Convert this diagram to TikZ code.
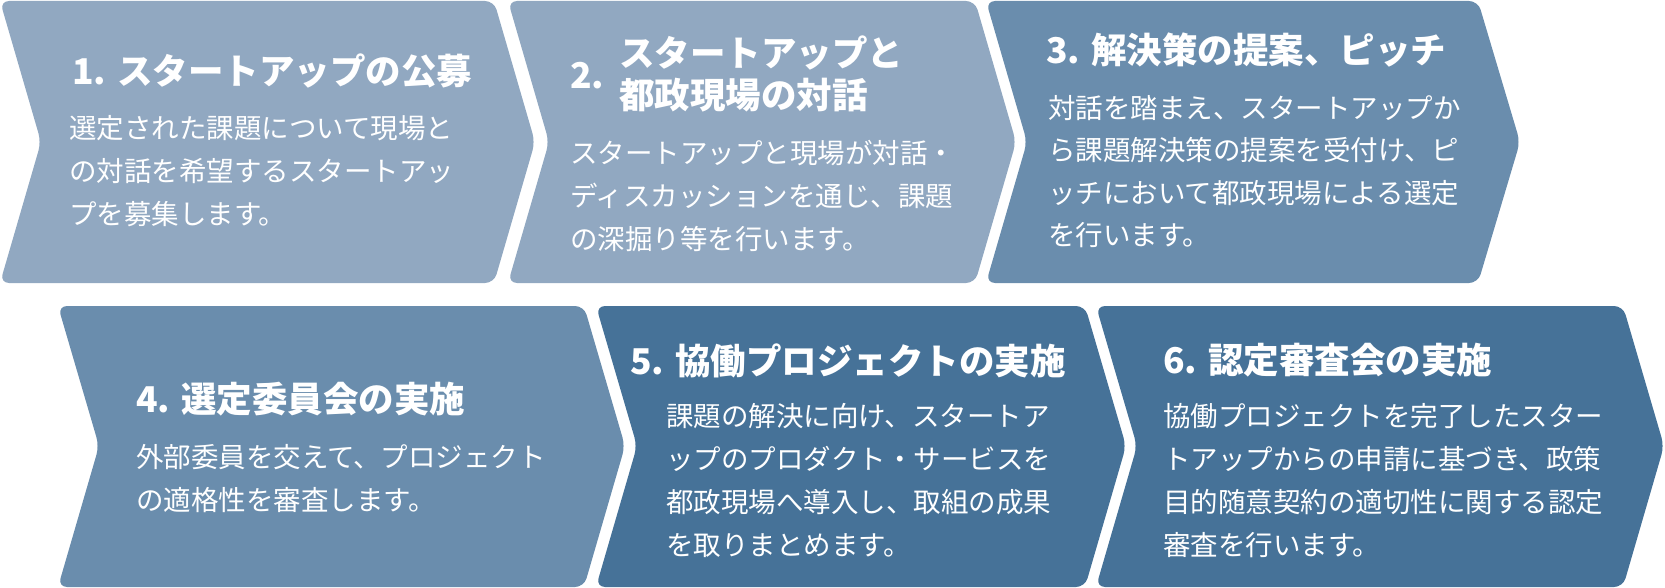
\documentclass[tikz,border=0pt]{standalone}
\usepackage{fontspec}
\newfontfamily\jp{Noto Sans CJK JP}
\definecolor{cA}{HTML}{91A8C1}
\definecolor{cB}{HTML}{6A8DAD}
\definecolor{cC}{HTML}{467298}
\tikzset{
  chev/.style={rounded corners=9pt},
  ttl/.style={text=white, font=\jp\bfseries\fontsize{35.5}{40}\selectfont, anchor=base west, inner sep=0pt},
  bdy/.style={text=white, font=\jp\fontsize{27.5}{43}\selectfont, anchor=base west, inner sep=0pt},
}
\begin{document}
\begin{tikzpicture}[x=1pt,y=-1pt]
\useasboundingbox (0,0) rectangle (1665,588);
% row 1
\fill[cA,chev] (0,1) -- (494,1) -- (535,142) -- (494,283) -- (0,283) -- (41,142) -- cycle;
\fill[cA,chev] (508,1) -- (975,1) -- (1016,142) -- (975,283) -- (508,283) -- (549,142) -- cycle;
\fill[cB,chev] (986,1) -- (1478,1) -- (1520,142) -- (1478,283) -- (986,283) -- (1027,142) -- cycle;
% row 2
\fill[cB,chev] (58,306) -- (584,306) -- (625,446) -- (584,587) -- (58,587) -- (99,446) -- cycle;
\fill[cC,chev] (596,306) -- (1085,306) -- (1126,446) -- (1085,587) -- (596,587) -- (637,446) -- cycle;
\fill[cC,chev] (1096,306) -- (1623,306) -- (1664,446) -- (1623,587) -- (1096,587) -- (1137,446) -- cycle;

% 1
\node[ttl] (t1) at (72,84.5) {1. スタートアップの公募};
\node[bdy] (b1a) at (69,138.5) {選定された課題について現場と};
\node[bdy] (b1b) at (69,181.5) {の対話を希望するスタートアッ};
\node[bdy] (b1c) at (69,224.5) {プを募集します。};
% 2
\node[ttl] (t2n) at (570,88.5) {2.};
\node[ttl] (t2a) at (619,66.5) {スタートアップと};
\node[ttl] (t2b) at (619,108.5) {都政現場の対話};
\node[bdy] (b2a) at (570,163.5) {スタートアップと現場が対話・};
\node[bdy] (b2b) at (570,206.5) {ディスカッションを通じ、課題};
\node[bdy] (b2c) at (570,249.5) {の深掘り等を行います。};
% 3
\node[ttl] (t3) at (1046,63.5) {3. 解決策の提案、ピッチ};
\node[bdy] (b3a) at (1048,118.5) {対話を踏まえ、スタートアップか};
\node[bdy] (b3b) at (1048,160.5) {ら課題解決策の提案を受付け、ピ};
\node[bdy] (b3c) at (1048,203.5) {ッチにおいて都政現場による選定};
\node[bdy] (b3d) at (1048,245.5) {を行います。};
% 4
\node[ttl] (t4) at (136,412.5) {4. 選定委員会の実施};
\node[bdy] (b4a) at (136,467.5) {外部委員を交えて、プロジェクト};
\node[bdy] (b4b) at (136,510.5) {の適格性を審査します。};
% 5
\node[ttl] (t5) at (630,374.5) {5. 協働プロジェクトの実施};
\node[bdy] (b5a) at (666,426.5) {課題の解決に向け、スタートア};
\node[bdy] (b5b) at (666,469.5) {ップのプロダクト・サービスを};
\node[bdy] (b5c) at (666,512.5) {都政現場へ導入し、取組の成果};
\node[bdy] (b5d) at (666,555.5) {を取りまとめます。};
% 6
\node[ttl] (t6) at (1163,373.5) {6. 認定審査会の実施};
\node[bdy] (b6a) at (1163,426.5) {協働プロジェクトを完了したスター};
\node[bdy] (b6b) at (1163,469.5) {トアップからの申請に基づき、政策};
\node[bdy] (b6c) at (1163,512.5) {目的随意契約の適切性に関する認定};
\node[bdy] (b6d) at (1163,555.5) {審査を行います。};
\end{tikzpicture}
\end{document}
